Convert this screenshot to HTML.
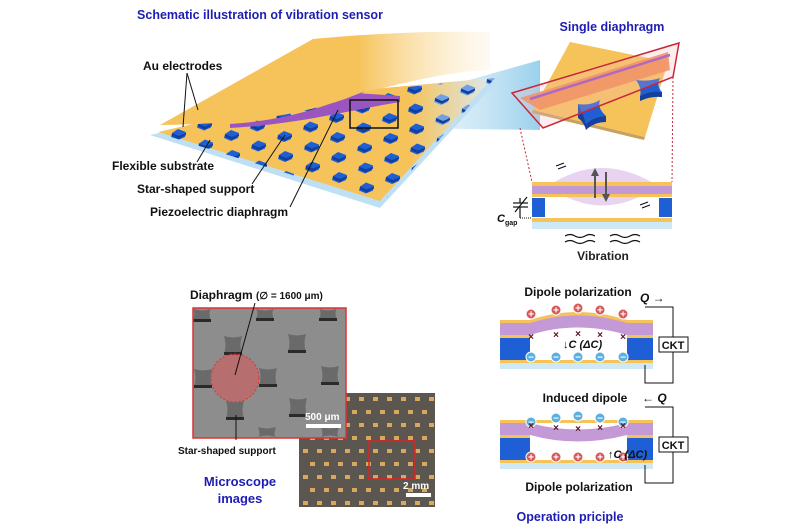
<!DOCTYPE html>
<html><head><meta charset="utf-8"><style>
body{margin:0;background:#fff}
svg{display:block;font-family:"Liberation Sans",Arial,sans-serif;font-weight:bold}
</style></head><body>
<svg id="s" width="800" height="530" viewBox="0 0 800 530" xmlns="http://www.w3.org/2000/svg">
<defs>
<linearGradient id="proj" x1="0" y1="0" x2="1" y2="0">
<stop offset="0" stop-color="#cfe8f6" stop-opacity="0.2"/><stop offset="1" stop-color="#8fcbea" stop-opacity="0.9"/></linearGradient>
<linearGradient id="fade" x1="0" y1="0" x2="1" y2="0">
<stop offset="0" stop-color="#f6c35a"/><stop offset="0.6" stop-color="#f6c35a"/><stop offset="1" stop-color="#fdf0d8" stop-opacity="0.3"/></linearGradient>
<linearGradient id="subf" x1="0" y1="0" x2="1" y2="0">
<stop offset="0" stop-color="#f6c35a"/><stop offset="0.75" stop-color="#f6c35a"/><stop offset="1" stop-color="#dbe9f0"/></linearGradient>
<clipPath id="sub"><polygon points="158,133 330,95 495,78 382,203"/></clipPath>
</defs>
<text x="260" y="19" font-size="12.5" fill="#1d1db4" text-anchor="middle">Schematic illustration of vibration sensor</text>
<text x="612" y="31" font-size="12.5" fill="#1d1db4" text-anchor="middle">Single diaphragm</text>
<polygon points="398,100 540,60 540,130 398,128" fill="url(#proj)"/>
<polygon points="150,135 330,95 500,78 380,208" fill="#bfe0f4"/>
<polygon points="158,132 330,93 493,78 380,201" fill="url(#subf)"/>
<g id="grid" clip-path="url(#sub)"></g>
<path d="M230,124 C290,120 330,105 355,93 L400,96 L400,102 C350,110 300,124 230,128 Z" fill="#9b55c0"/>
<path d="M160,125 L313,39 C380,33 430,31 490,32 L490,70 C440,72 400,85 360,93 C320,110 260,124 160,125 Z" fill="url(#fade)"/>
<rect x="350" y="100" width="48" height="28" fill="none" stroke="#111" stroke-width="1.5"/>
<g stroke="#111" stroke-width="1">
<line x1="187" y1="73" x2="183" y2="127"/><line x1="187" y1="73" x2="198" y2="110"/>
<line x1="197" y1="162" x2="210" y2="140"/>
<line x1="252" y1="184" x2="285" y2="135"/>
<line x1="290" y1="207" x2="338" y2="110"/>
</g>
<g font-size="12" fill="#111">
<text x="143" y="70">Au electrodes</text>
<text x="112" y="170">Flexible substrate</text>
<text x="137" y="193">Star-shaped support</text>
<text x="150" y="216">Piezoelectric diaphragm</text>
</g>
<polygon points="570,42 668,62 645,137 533,110" fill="#f6c35a"/>
<polygon points="533,110 645,137 644,140 532,113" fill="#c8a060"/>
<polygon points="520,98 668,52 670,70 540,110" fill="#f08a4a" opacity="0.9"/>
<line x1="530" y1="99" x2="670" y2="55" stroke="#9b4fc0" stroke-width="2.5"/>
<path d="M578,104 Q590,106 600,100 Q597,108 606,116 Q594,116 586,124 Q584,114 578,104 Z" fill="#1f5fd6"/>
<path d="M578,104 L578,118 Q584,122 586,130 L586,124 Q584,114 578,104Z" fill="#1440a0"/>
<path d="M586,124 L586,130 Q594,122 606,122 L606,116 Q594,116 586,124Z" fill="#1440a0"/>
<path d="M636,80 Q648,82 660,78 Q656,86 662,92 Q650,90 640,96 Q642,88 636,80 Z" fill="#1f5fd6"/>
<path d="M640,96 L640,101 Q650,96 662,97 L662,92 Q650,90 640,96Z" fill="#1440a0"/>
<polygon points="512,93 679,43 673,77 543,128" fill="#f3b7c0" fill-opacity="0.25" stroke="#c8283a" stroke-width="1.5"/>
<g stroke="#c8283a" stroke-width="1" stroke-dasharray="2,2"><line x1="520" y1="128" x2="532" y2="182"/><line x1="673" y1="77" x2="672" y2="182"/></g>
<path d="M548,186 Q602,150 658,186 Q602,225 548,186 Z" fill="#d9b8e6" opacity="0.6"/>
<rect x="532" y="182" width="140" height="4" fill="#f6c35a"/>
<rect x="532" y="186" width="140" height="8" fill="#c49ad6"/>
<rect x="532" y="194" width="140" height="3" fill="#f6c35a"/>
<rect x="532" y="198" width="13" height="19" fill="#1f5fd6"/>
<rect x="659" y="198" width="13" height="19" fill="#1f5fd6"/>
<rect x="532" y="218" width="140" height="4" fill="#f6c35a"/>
<rect x="532" y="222" width="140" height="7" fill="#cfe8f6"/>
<g stroke="#555" stroke-width="2"><line x1="595" y1="198" x2="595" y2="172"/><line x1="606" y1="172" x2="606" y2="198"/></g>
<polygon points="591,176 595,168 599,176" fill="#555"/><polygon points="602,194 606,202 610,194" fill="#555"/>
<g stroke="#111" stroke-width="1.2" fill="none">
<path d="M556,166 l8,-3 M558,169 l8,-3"/><path d="M640,205 l8,-3 M642,208 l8,-3"/>
<line x1="513" y1="203" x2="528" y2="203"/><line x1="513" y1="207" x2="528" y2="207"/>
<line x1="520" y1="198" x2="520" y2="203"/><line x1="520" y1="207" x2="520" y2="218"/>
<line x1="515" y1="212" x2="527" y2="197"/>
<path d="M565,236 q5,-3 10,0 t10,0 t10,0 M565,242 q5,-3 10,0 t10,0 t10,0 M610,236 q5,-3 10,0 t10,0 t10,0 M610,242 q5,-3 10,0 t10,0 t10,0"/>
</g>
<line x1="520" y1="218" x2="532" y2="218" stroke="#111" stroke-dasharray="1,1"/>
<text x="497" y="222" font-size="11" font-style="italic" fill="#111">C</text><text x="505" y="225" font-size="7" fill="#111">gap</text>
<text x="603" y="260" font-size="12" fill="#222" text-anchor="middle">Vibration</text>
<!-- optical first -->
<rect x="299" y="393" width="136" height="114" fill="#5c5650"/>
<g id="opt"></g>
<rect x="369" y="441" width="46" height="38" fill="none" stroke="#e02020" stroke-width="1.5"/>
<rect x="406" y="493" width="25" height="4" fill="#fff"/><text x="403" y="489" font-size="10" fill="#fff">2 mm</text>
<!-- SEM -->
<rect x="193" y="308" width="153" height="130" fill="#8d8d8d"/>
<g id="sem"></g>
<circle cx="235" cy="378" r="24" fill="#e05050" fill-opacity="0.5" stroke="#d33" stroke-dasharray="2,2"/>
<rect x="193" y="308" width="153" height="130" fill="none" stroke="#d33" stroke-width="1.5"/>
<rect x="306" y="424" width="35" height="4" fill="#fff"/><text x="305" y="420" font-size="10" fill="#fff">500 μm</text>
<line x1="255" y1="303" x2="235" y2="375" stroke="#111"/><line x1="236" y1="415" x2="236" y2="440" stroke="#111"/>
<text x="190" y="299" font-size="12" fill="#111">Diaphragm <tspan font-size="10">(∅ = 1600 μm)</tspan></text>
<text x="178" y="454" font-size="10" fill="#111">Star-shaped support</text>
<text x="240" y="486" font-size="13" fill="#1d1db4" text-anchor="middle">Microscope</text>
<text x="240" y="503" font-size="13" fill="#1d1db4" text-anchor="middle">images</text>
<g id="op"></g>
<text x="578" y="296" font-size="12" fill="#111" text-anchor="middle">Dipole polarization</text>
<text x="585" y="402" font-size="12" fill="#111" text-anchor="middle">Induced dipole</text>
<text x="579" y="491" font-size="12" fill="#111" text-anchor="middle">Dipole polarization</text>
<text x="570" y="521" font-size="12.5" fill="#1d1db4" text-anchor="middle">Operation priciple</text>
</svg>
<script>
var N="http://www.w3.org/2000/svg";
function el(p,t,a){var e=document.createElementNS(N,t);for(var k in a)e.setAttribute(k,a[k]);p.appendChild(e);return e;}
var g=document.getElementById('grid');
for(var i=-2;i<10;i++)for(var j=-2;j<10;j++){var x=172+i*27+j*26,y=133+i*10.5-j*9.5;
var c=x>420?'#6fa0e6':'#1f5fd6';
el(g,'path',{d:'M'+x+','+y+' l6,-4 l8,3 l-1,5 l-7,3 l-7,-3 z',fill:c});
el(g,'path',{d:'M'+x+','+y+' l7,3 l7,-3 l0,2 l-7,4 l-7,-3 z',fill:'#123f9c'});}
var s=document.getElementById('sem');
[[202,312],[265,311],[328,311],[233,345],[297,343],[203,378],[268,377],[330,375],[235,410],[298,407],[267,436],[330,436]].forEach(function(p){
var y0=Math.max(p[1]-9,309), y1=Math.min(p[1]+9,437);
el(s,'path',{d:'M'+(p[0]-9)+','+y0+' Q'+p[0]+','+(y0+3)+' '+(p[0]+9)+','+y0+' Q'+(p[0]+6)+','+p[1]+' '+(p[0]+9)+','+y1+' Q'+p[0]+','+(y1-3)+' '+(p[0]-9)+','+y1+' Q'+(p[0]-6)+','+p[1]+' '+(p[0]-9)+','+y0+'Z',fill:'#6a6a6a'});
if(y1<436)el(s,'rect',{x:p[0]-9,y:y1-2,width:18,height:3,fill:'#2a2a2a'});});
var o=document.getElementById('opt');
for(var r=0;r<9;r++)for(var c=0;c<10;c++){var x=303+c*14+(r%2)*7,y=397+r*13;
if(x>430)continue;el(o,'rect',{x:x,y:y,width:5,height:4,fill:'#d9a860'});}
var op=document.getElementById('op');
function circ(x,y,f,sg){el(op,'circle',{cx:x,cy:y,r:5,fill:f,stroke:'#fff'});var t=el(op,'text',{x:x,y:y+3.5,'font-size':10,'text-anchor':'middle',fill:'#fff'});t.textContent=sg;}
function dev(oy,up){
el(op,'path',{d:up?'M500,'+oy+' L530,'+oy+' Q577,'+(oy-16)+' 627,'+oy+' L653,'+oy+' L653,'+(oy+3)+' L500,'+(oy+3)+'Z':'M500,'+oy+' L653,'+oy+' L653,'+(oy+3)+' L500,'+(oy+3)+'Z',fill:'#f6c35a'});
el(op,'path',{d:up?'M500,'+(oy+3)+' L530,'+(oy+3)+' Q577,'+(oy-12)+' 627,'+(oy+3)+' L653,'+(oy+3)+' L653,'+(oy+15)+' L627,'+(oy+15)+' Q577,'+oy+' 530,'+(oy+15)+' L500,'+(oy+15)+'Z':
'M500,'+(oy+3)+' L530,'+(oy+3)+' Q577,'+(oy+16)+' 627,'+(oy+3)+' L653,'+(oy+3)+' L653,'+(oy+15)+' L627,'+(oy+15)+' Q577,'+(oy+28)+' 530,'+(oy+15)+' L500,'+(oy+15)+'Z',fill:'#c49ad6'});
el(op,'rect',{x:500,y:oy+15,width:30,height:3,fill:'#f6c35a'});el(op,'rect',{x:627,y:oy+15,width:26,height:3,fill:'#f6c35a'});
el(op,'rect',{x:500,y:oy+18,width:30,height:22,fill:'#1f5fd6'});el(op,'rect',{x:627,y:oy+18,width:26,height:22,fill:'#1f5fd6'});
el(op,'rect',{x:500,y:oy+40,width:153,height:3,fill:'#f6c35a'});el(op,'rect',{x:500,y:oy+43,width:153,height:6,fill:'#cfe8f6'});
el(op,'polyline',{points:'645,'+(oy-13)+' 673,'+(oy-13)+' 673,'+(oy+63)+' 645,'+(oy+63)+' 645,'+(oy+45),fill:'none',stroke:'#111'});
el(op,'rect',{x:659,y:oy+17,width:29,height:15,fill:'#fff',stroke:'#111'});
var t=el(op,'text',{x:673,y:oy+29,'font-size':11,'text-anchor':'middle',fill:'#111'});t.textContent='CKT';
var xs=[531,556,578,600,623];
xs.forEach(function(x,k){var h=[6,2,0,2,6][k];
var ty=up?oy-6+h:oy+2+h, by=oy+37;
if(up){circ(x,ty-6,'#d65a5a','+');circ(x,by,'#5ab0e0','−');}
else{circ(x,ty-6,'#5ab0e0','−');circ(x,by,'#d65a5a','+');}
var m=el(op,'text',{x:x,y:(up?oy+17+h/2:oy+12-h/2),'font-size':10,'text-anchor':'middle',fill:'#5a1020'});m.textContent='×';});
}
dev(320,true);dev(420,false);
function tx(x,y,s,fs,it){var t=el(op,'text',{x:x,y:y,'font-size':fs,fill:'#111','font-style':it?'italic':'normal'});t.textContent=s;}
tx(640,302,'Q →',12,true);tx(642,402,'← Q',12,true);
tx(563,348,'↓C (ΔC)',11,true);tx(608,458,'↑C (ΔC)',11,true);
</script>
</body></html>
